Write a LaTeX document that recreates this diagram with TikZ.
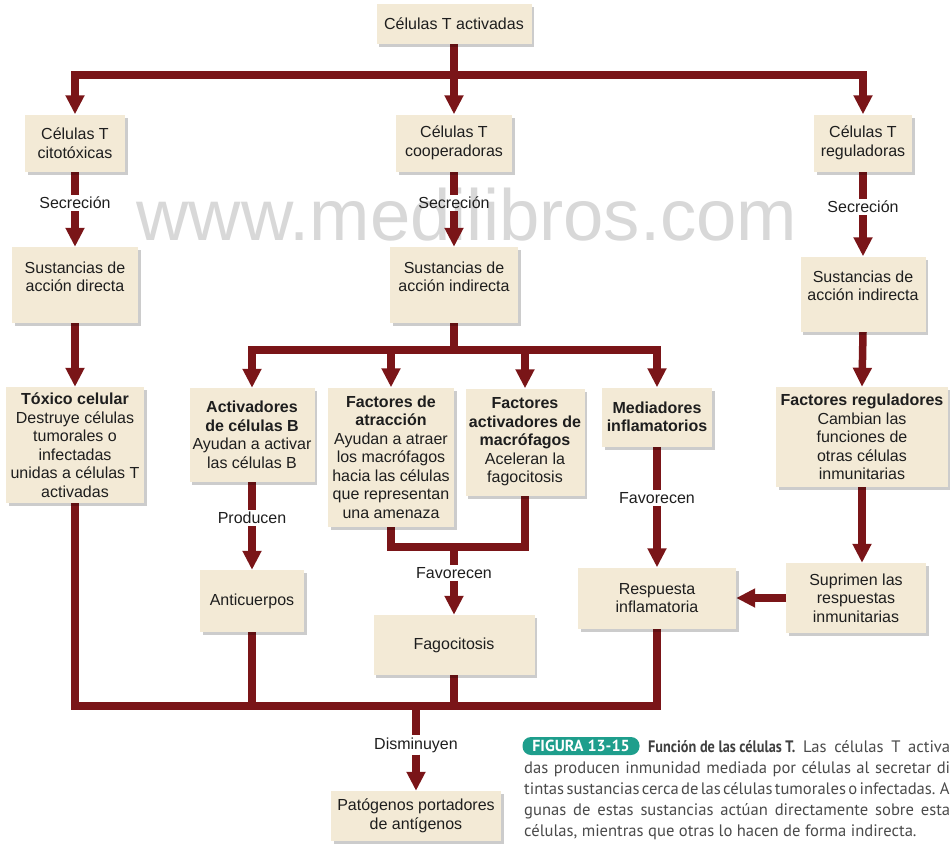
\documentclass[tikz,border=0pt]{standalone}
\usepackage{fontspec}
\setmainfont{Liberation Sans}
\newfontfamily\capfont{PT Sans}
\usetikzlibrary{arrows.meta,shadows,backgrounds}
\definecolor{boxc}{HTML}{F3EAD6}
\definecolor{arr}{HTML}{7A1518}
\definecolor{txtc}{HTML}{1E1E1E}
\definecolor{capteal}{HTML}{1E9E8C}
\definecolor{capgray}{HTML}{4A4A4A}
\definecolor{wmgray}{HTML}{D8D8D8}
\newcommand\dfont{\fontsize{16}{18.5}\selectfont}
\begin{document}
\begin{tikzpicture}[x=1pt,y=-1pt,
  box/.style={fill=boxc, drop shadow={shadow xshift=2.5pt,shadow yshift=-3pt,fill=black,opacity=.2},
    align=center, inner sep=0pt, font=\dfont, text=txtc},
  btext/.style={align=center, inner sep=0pt, font=\dfont, text=txtc},
  lab/.style={font=\dfont, inner sep=2pt, text=txtc},
  linec/.style={draw=arr, line width=7.5pt},
  arrowc/.style={draw=arr, line width=7.5pt, -{Triangle[width=18pt,length=19pt]}},
  capline/.style={anchor=base west, inner sep=0pt, font=\capfont\fontsize{16.6}{21}\selectfont, text=capgray}
]
\useasboundingbox (0,0) rectangle (950,843);
\clip (0,0) rectangle (950,843);

% row 1
\node[box, minimum width=155pt, minimum height=40pt] (top) at (454,24) {Células T activadas};
\node[box, minimum width=100pt, minimum height=57pt] (cito) at (75,143) {Células T\\citotóxicas};
\node[box, minimum width=116pt, minimum height=57pt] (coop) at (454,143) {Células T\\cooperadoras};
\node[box, minimum width=98pt, minimum height=57pt] (regu) at (863,143) {Células T\\reguladoras};

\node[lab] (sec1) at (75,203) {Secreción};
\node[lab] (sec2) at (454,203) {Secreción};
\node[lab] (sec3) at (863,207) {Secreción};

% row 2
\node[box, minimum width=126pt, minimum height=76pt] (sd) at (75,285) {};
\node[btext] (sd-t) at (75,277) {Sustancias de\\acción directa};
\node[box, minimum width=128pt, minimum height=76pt] (si) at (454,285) {};
\node[btext] (si-t) at (454,277) {Sustancias de\\acción indirecta};
\node[box, minimum width=125pt, minimum height=75pt] (sr) at (863,294) {};
\node[btext] (sr-t) at (863,286) {Sustancias de\\acción indirecta};

% row 3
\node[box, minimum width=138pt, minimum height=116pt] (tox) at (75,445)
  {\textbf{Tóxico celular}\\Destruye células\\tumorales o\\infectadas\\unidas a células T\\activadas};
\node[box, minimum width=125pt, minimum height=94pt] (actB) at (252,435)
  {\textbf{Activadores}\\\textbf{de células B}\\Ayudan a activar\\las células B};
\node[box, minimum width=126pt, minimum height=139pt] (fAtr) at (391,457)
  {\textbf{Factores de}\\\textbf{atracción}\\Ayudan a atraer\\los macrófagos\\hacia las células\\que representan\\una amenaza};
\node[box, minimum width=119pt, minimum height=107pt] (fMac) at (525,442)
  {\textbf{Factores}\\\textbf{activadores de}\\\textbf{macrófagos}\\Aceleran la\\fagocitosis};
\node[box, minimum width=110pt, minimum height=59pt] (med) at (657,417)
  {\textbf{Mediadores}\\\textbf{inflamatorios}};
\node[box, minimum width=172pt, minimum height=100pt] (freg) at (862,437)
  {\textbf{Factores reguladores}\\Cambian las\\funciones de\\otras células\\inmunitarias};

\node[lab] (prod) at (252,518) {Producen};
\node[lab] (fav1) at (454,573) {Favorecen};
\node[lab] (fav2) at (657,498) {Favorecen};

% row 4
\node[box, minimum width=104pt, minimum height=62pt] (anti) at (252,601) {Anticuerpos};
\node[box, minimum width=161pt, minimum height=60pt] (fago) at (454,645) {Fagocitosis};
\node[box, minimum width=158pt, minimum height=61pt] (resp) at (657,598) {Respuesta\\inflamatoria};
\node[box, minimum width=140pt, minimum height=70pt] (supr) at (856,598) {Suprimen las\\respuestas\\inmunitarias};

\node[lab] (dism) at (416,745) {Disminuyen};
\node[box, minimum width=170pt, minimum height=50pt] (pato) at (416,816) {Patógenos portadores\\de antígenos};

\coordinate (jTop) at (454,75);
\coordinate (jMid) at (454,350);
\coordinate (jFav) at (454,547);
\coordinate (jBot) at (416,706);

\begin{scope}[on background layer]
  % watermark
  \node[anchor=base, inner sep=0pt, font=\fontsize{72.5}{80}\selectfont, text=wmgray] (wm) at (467,240) {www.medilibros.com};
  % top split
  \draw[linec] (top.south) -- (jTop);
  \draw[arrowc] (jTop) -| (cito.north);
  \draw[arrowc] (jTop) -| (regu.north);
  \draw[arrowc] (jTop) -- (coop.north);
  % secretion
  \draw[linec] (cito.south) -- (sec1.north);
  \draw[arrowc] (sec1.south) -- (sd.north);
  \draw[linec] (coop.south) -- (sec2.north);
  \draw[arrowc] (sec2.south) -- (si.north);
  \draw[linec] (regu.south) -- (sec3.north);
  \draw[arrowc] (sec3.south) -- (sr.north);
  % row 2 -> 3
  \draw[arrowc] (sd.south) -- (tox.north);
  \draw[arrowc] (sr.south) -- (freg.north);
  \draw[linec] (si.south) -- (jMid);
  \draw[arrowc] (jMid) -| (actB.north);
  \draw[arrowc] (jMid) -| (fAtr.north);
  \draw[arrowc] (jMid) -| (fMac.north);
  \draw[arrowc] (jMid) -| (med.north);
  % row 3 -> 4
  \draw[linec] (actB.south) -- (prod.north);
  \draw[arrowc] (prod.south) -- (anti.north);
  \draw[linec] (fAtr.south) |- (jFav) -| (fMac.south);
  \draw[linec] (jFav) -- (fav1.north);
  \draw[arrowc] (fav1.south) -- (fago.north);
  \draw[linec] (med.south) -- (fav2.north);
  \draw[arrowc] (fav2.south) -- (resp.north);
  \draw[arrowc] (freg.south) -- (freg.south |- supr.north);
  \draw[arrowc] (supr.west) -- (resp.east);
  % bottom merge
  \draw[linec] (tox.south) |- (jBot) -| (resp.south);
  \draw[linec] (anti.south) -- (anti.south |- jBot);
  \draw[linec] (fago.south) -- (fago.south |- jBot);
  \draw[linec] (jBot) -- (dism.north);
  \draw[arrowc] (dism.south) -- (pato.north);
\end{scope}

% caption
\node[fill=capteal, rounded corners=8.5pt, minimum width=117pt, minimum height=18pt, inner sep=0pt,
  text=white, font=\capfont\bfseries\fontsize{16}{16}\selectfont] (pill) at (581,746) {FIGURA 13-15};
\node[capline] (cap1) at (648,752) {\makebox[302pt][s]{\textcolor{txtc!85}{\scalebox{0.86}[1]{\bfseries Función de las células T.}} Las células T activa}};
\node[capline] (cap2) at (524,773) {\makebox[426pt][s]{das producen inmunidad mediada por células al secretar di}};
\node[capline] (cap3) at (524,794) {\makebox[424pt][s]{\spaceskip=0.19em plus 0.5em minus 0.05em tintas sustancias cerca de las células tumorales o infectadas. A}};
\node[capline] (cap4) at (524,815) {\makebox[426pt][s]{gunas de estas sustancias actúan directamente sobre esta}};
\node[capline] (cap5) at (524,836) {células, mientras que otras lo hacen de forma indirecta.};
\end{tikzpicture}
\end{document}
